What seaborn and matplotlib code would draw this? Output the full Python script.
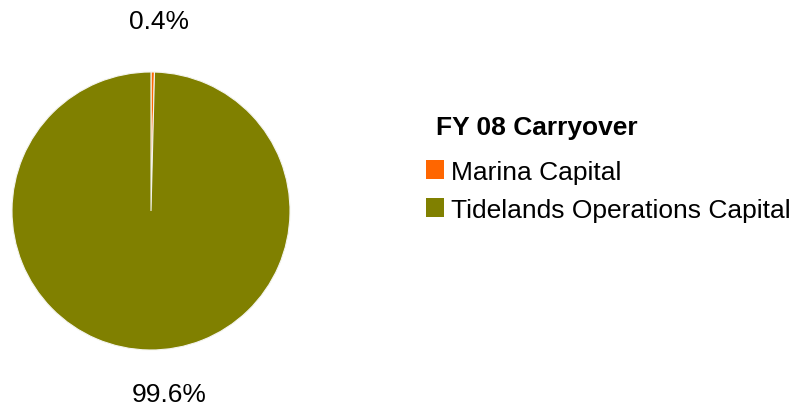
import matplotlib
matplotlib.use("Agg")
import matplotlib.pyplot as plt
import seaborn as sns
from matplotlib.patches import Patch

# Carryover shares by fund
categories = ["Marina Capital", "Tidelands Operations Capital"]
shares = [0.4, 99.6]
colors = ["#FF6600", "#808000"]
legend_title = "FY 08 Carryover"

sns.set_theme(style="white")
plt.rcParams["font.family"] = ["Liberation Sans", "DejaVu Sans"]
plt.rcParams["text.color"] = "black"

fig = plt.figure(figsize=(7.94, 4.06), dpi=100)
fig.patch.set_facecolor("white")

# square axes holding the pie (unit radius)
ax = fig.add_axes([12 / 794, 55 / 406, 278 / 794, 278 / 406])
wedges, texts, autotexts = ax.pie(
    shares,
    colors=colors,
    startangle=90,
    counterclock=False,
    autopct="%.1f%%",
    pctdistance=1.35,
    wedgeprops=dict(edgecolor="#f4f4ee", linewidth=0.8),
    textprops=dict(fontsize=19, color="black"),
)
ax.set_xlim(-1, 1)
ax.set_ylim(-1, 1)
ax.set_aspect("equal")
ax.axis("off")

# percentage labels sit on their baselines above / below the pie
label_nudges = [(0.04, 1.317), (0.145, -1.37)]
for t, (dx, ybase) in zip(autotexts, label_nudges):
    x, _ = t.get_position()
    t.set_position((x + dx, ybase))
    t.set_ha("center")
    t.set_va("baseline")

handles = [Patch(facecolor=c, edgecolor="none") for c in colors]
leg = fig.legend(
    handles,
    categories,
    title=legend_title,
    loc="upper left",
    bbox_to_anchor=(426 / 794, 1 - 122 / 406),
    frameon=False,
    fontsize=19,
    labelcolor="black",
    title_fontproperties=dict(size=19, weight="bold", family=["Liberation Sans", "DejaVu Sans"]),
    handlelength=0.68,
    handleheight=0.72,
    handletextpad=0.28,
    labelspacing=0.55,
    borderpad=0,
    borderaxespad=0,
    alignment="left",
)
leg.get_title().set_color("black")
leg.get_title().set_position((10, 6))

fig.savefig("out.png", dpi=100, facecolor="white")
